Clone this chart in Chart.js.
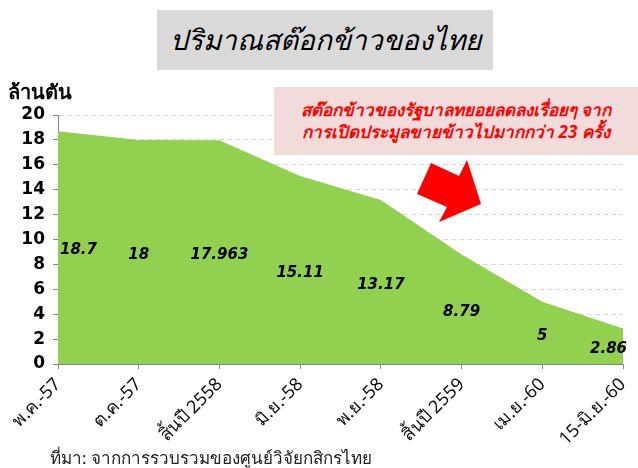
<!DOCTYPE html>
<html lang="th">
<head>
    <meta charset="UTF-8">
    <title>ปริมาณสต๊อกข้าวของไทย</title>
    <script src="https://cdn.jsdelivr.net/npm/chart.js"></script>
    <style>
        body { margin: 0; background: #fff; font-family: "Noto Sans", "DejaVu Sans", sans-serif; }
        #wrap { position: relative; width: 638px; height: 468px; overflow: hidden; }
        #stockChart { position: absolute; left: 0; top: 0; }
        .title {
            position: absolute; left: 157px; top: 10px; width: 336px; height: 60px;
            background: #d9d9d9; font-style: italic; font-size: 28px; color: #000;
            display: flex; align-items: center; justify-content: center;
        }
        .note {
            position: absolute; left: 274px; top: 87px; width: 364px; height: 68px;
            background: #f2dcdb; color: #ff0000; font-weight: bold; font-style: italic;
            font-size: 17px; line-height: 22px; text-align: center;
            display: flex; align-items: center; justify-content: center;
        }
        .unit { position: absolute; left: 8px; top: 76px; font-size: 20px; font-weight: bold; color: #000; }
        .source { position: absolute; left: 50px; top: 444px; font-size: 17px; color: #222; }
        svg.arrow { position: absolute; left: 0; top: 0; }
    </style>
</head>
<body>
<div id="wrap">
    <canvas id="stockChart" width="638" height="468"></canvas>
    <div class="title">ปริมาณสต๊อกข้าวของไทย</div>
    <div class="note">สต๊อกข้าวของรัฐบาลทยอยลดลงเรื่อยๆ จาก<br>การเปิดประมูลขายข้าวไปมากกว่า 23 ครั้ง</div>
    <svg class="arrow" width="638" height="468">
        <polygon points="431,163 459,176 467,160 481,204 439,222 447,207 417,194" fill="#ff0000"/>
    </svg>
    <div class="unit">ล้านตัน</div>
    <div class="source">ที่มา: จากการรวบรวมของศูนย์วิจัยกสิกรไทย</div>
</div>

<script>
    // data
    const periods = ['พ.ค.-57', 'ต.ค.-57', 'สิ้นปี 2558', 'มิ.ย.-58', 'พ.ย.-58', 'สิ้นปี 2559', 'เม.ย.-60', '15-มิ.ย.-60'];
    const stockValues = [18.7, 18, 17.963, 15.11, 13.17, 8.79, 5, 2.86];
    const valueLabels = ['18.7', '18', '17.963', '15.11', '13.17', '8.79', '5', '2.86'];

    // labels sit half way up the area, like the original
    const midLabels = {
        id: 'midLabels',
        afterDatasetsDraw(chart) {
            const ctx = chart.ctx;
            const meta = chart.getDatasetMeta(0);
            const yScale = chart.scales.y;
            ctx.save();
            ctx.font = 'italic bold 15px "DejaVu Sans", sans-serif';
            ctx.fillStyle = '#000';
            ctx.textBaseline = 'middle';
            meta.data.forEach((pt, i) => {
                const y = yScale.getPixelForValue(stockValues[i] / 2) + 3;
                let x = pt.x;
                if (i === 0) { ctx.textAlign = 'left'; x += 2; }
                else if (i === meta.data.length - 1) { ctx.textAlign = 'right'; x += 4; }
                else ctx.textAlign = 'center';
                ctx.fillText(valueLabels[i], x, y);
            });
            ctx.restore();
        }
    };

    const ctx = document.getElementById('stockChart').getContext('2d');
    new Chart(ctx, {
        type: 'line',
        data: {
            labels: periods,
            datasets: [{
                data: stockValues,
                fill: 'origin',
                backgroundColor: '#92d050',
                borderWidth: 0,
                pointRadius: 0,
                tension: 0
            }]
        },
        options: {
            responsive: false,
            animation: false,
            layout: { padding: { top: 115, right: 15, left: 0, bottom: 0 } },
            plugins: {
                legend: { display: false },
                tooltip: { enabled: false }
            },
            scales: {
                x: {
                    offset: false,
                    grid: { drawOnChartArea: false, tickLength: 5, color: '#868686' },
                    border: { color: '#868686' },
                    ticks: {
                        minRotation: 45, maxRotation: 45, autoSkip: false,
                        color: '#111', padding: 5,
                        font: { size: 18, family: '"Noto Sans", "DejaVu Sans", sans-serif' }
                    },
                    afterFit(scale) { scale.height = 104; scale.paddingRight = 10; }
                },
                y: {
                    min: 0, max: 20,
                    grid: { color: '#d9d9d9', tickLength: 5, tickColor: '#868686', tickBorderDash: [] },
                    border: { color: '#868686', dash: [5, 3] },
                    ticks: {
                        stepSize: 2, color: '#000', padding: 8,
                        font: { size: 17, weight: 'bold', family: '"DejaVu Sans", sans-serif' }
                    },
                    afterFit(scale) { scale.width = 58; }
                }
            }
        },
        plugins: [midLabels]
    });
</script>
</body>
</html>
